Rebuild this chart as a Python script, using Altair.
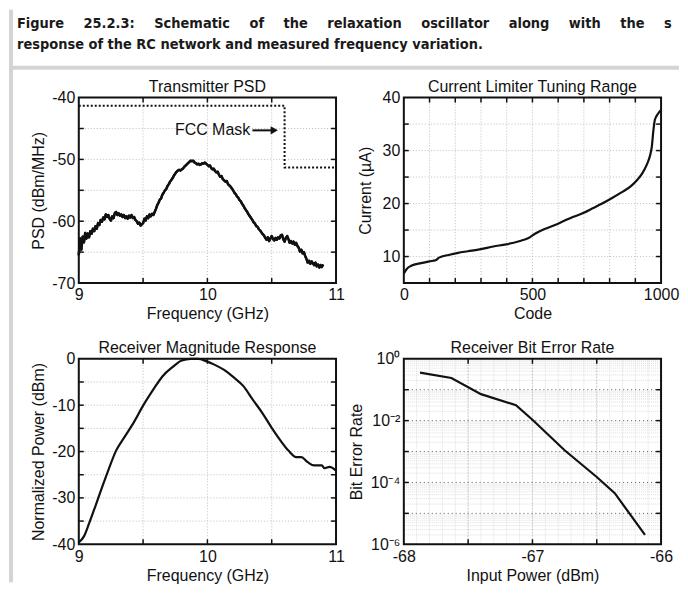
import altair as alt
import pandas as pd

# ---------------- data ----------------
# Transmitter PSD (dBm/MHz), sampled every 0.01 GHz from 9.00 GHz
psd_dbm = [
    -65.5, -62.8, -64.6, -62.5, -63.4, -61.9, -62.8, -62.0, -62.6, -61.6,
    -62.0, -61.2, -61.6, -60.8, -61.2, -60.3, -60.6, -59.8, -60.1, -59.4,
    -59.7, -58.9, -59.3, -59.0, -59.6, -59.9, -59.2, -59.5, -58.7, -58.5,
    -59.0, -58.7, -59.1, -58.9, -59.3, -59.0, -59.5, -59.2, -59.6, -59.1,
    -59.4, -59.0, -59.5, -59.3, -59.8, -60.0, -60.4, -60.2, -60.7, -60.5,
    -60.3, -59.6, -59.9, -59.2, -59.5, -58.9, -59.2, -58.8, -59.0, -58.5,
    -58.0, -57.4, -57.0, -56.5, -56.3, -55.7, -55.4, -55.0, -54.8, -54.3,
    -54.0, -53.6, -53.3, -53.0, -52.6, -52.3, -52.0, -51.8, -51.7, -51.8,
    -51.6, -51.5, -51.2, -51.0, -50.8, -50.6, -50.4, -50.2, -50.3, -50.2,
    -50.5, -50.6, -50.8, -50.7, -50.9, -50.8, -50.6, -50.7, -50.5, -50.7,
    -50.9, -51.1, -51.0, -51.4, -51.6, -51.5, -51.9, -52.1, -52.0, -52.5,
    -52.8, -52.7, -53.2, -53.4, -53.6, -53.5, -54.0, -54.2, -54.4, -54.7,
    -55.0, -55.4, -55.6, -56.0, -56.2, -56.6, -56.8, -57.2, -57.5, -57.9,
    -58.2, -58.5, -58.9, -59.2, -59.5, -59.8, -60.2, -60.4, -60.8, -60.9,
    -61.3, -61.5, -61.8, -62.1, -62.3, -62.7, -63.0, -62.6, -63.2, -62.8,
    -62.4, -62.9, -63.1, -62.7, -63.0, -62.6, -62.8, -62.3, -62.2, -62.9,
    -63.3, -62.7, -62.4, -62.9, -63.5, -63.2, -63.6, -63.3, -63.8, -63.5,
    -64.0, -64.3, -64.9, -64.6, -65.2, -65.0, -65.6, -66.1, -66.7, -66.4,
    -66.9, -66.5, -66.8, -67.1, -66.7, -67.3, -67.0, -67.5, -67.1, -67.4,
    -67.0,
]
psd_freq = [round(9.0 + 0.01 * i, 2) for i in range(len(psd_dbm))]

mask_freq = [9.0, 10.6, 10.6, 11.0]
mask_dbm = [-41.3, -41.3, -51.3, -51.3]

# Current limiter tuning range
cl_code = [0, 12, 31, 62, 99, 124, 137, 174, 211, 249, 299, 348, 398, 448, 485,
           510, 547, 585, 622, 659, 697, 734, 771, 808, 846, 883, 908, 927, 945,
           958, 964, 970, 976, 989, 998]
cl_current = [6.8, 7.7, 8.3, 8.7, 9.1, 9.3, 9.8, 10.3, 10.7, 11.0, 11.4, 11.9,
              12.3, 12.9, 13.5, 14.3, 15.2, 15.9, 16.7, 17.5, 18.2, 19.1, 20.0,
              21.0, 22.1, 23.3, 24.5, 25.7, 27.4, 29.2, 30.7, 33.7, 35.8, 37.0, 37.6]

# Receiver magnitude response
rx_freq = [9.0, 9.04, 9.08, 9.13, 9.18, 9.23, 9.29, 9.35, 9.43, 9.50, 9.58, 9.65,
           9.73, 9.80, 9.87, 9.93, 9.99, 10.05, 10.13, 10.20, 10.28, 10.35, 10.43,
           10.50, 10.57, 10.63, 10.69, 10.73, 10.78, 10.83, 10.89, 10.91, 10.95, 11.0]
rx_power = [-39.6, -38.3, -35.5, -31.7, -27.8, -24.0, -19.8, -17.1, -13.6, -10.1,
            -6.6, -3.8, -1.75, -0.35, 0.0, 0.0, -0.5, -1.2, -2.4, -3.9, -5.9, -8.7,
            -11.8, -14.9, -17.7, -19.8, -21.2, -21.2, -22.3, -23.0, -23.0, -23.6,
            -23.3, -24.1]

# Receiver bit error rate
ber_pin = [-67.874, -67.63, -67.40, -67.128, -67.0, -66.75, -66.50, -66.36, -66.125]
ber_val = [0.357, 0.24, 0.072, 0.0316, 0.0107, 1.1e-3, 1.5e-4, 4.5e-5, 2e-6]

header_line1 = "\u2003\u2002".join(["Figure", "25.2.3:", "Schematic", "of", "the", "relaxation",
                                    "oscillator", "along", "with", "the", "step"])
header_line2 = "response of the RC network and measured frequency variation."
panel_titles = ["Transmitter PSD", "Current Limiter Tuning Range",
                "Receiver Magnitude Response", "Receiver Bit Error Rate"]

# axis labels, grid lines and inward ticks
ghz_labels = [9, 10, 11]
ghz_grid = [9.5, 10, 10.5]
psd_labels = [-70, -60, -50, -40]
psd_grid = [-65, -60, -55, -50, -45]
code_labels = [0, 500, 1000]
code_grid = [100, 200, 300, 400, 500, 600, 700, 800, 900]
cur_labels = [10, 20, 30, 40]
cur_grid = [10, 15, 20, 25, 30, 35]
rx_labels = [-40, -30, -20, -10, 0]
rx_grid = [-35, -30, -25, -20, -15, -10, -5]
pin_labels = [-68, -67, -66]
pin_major = [-67.5, -67, -66.5]
pin_minor = [round(-68 + 0.1 * i, 2) for i in range(1, 20)]
ber_labels = [1e-6, 1e-4, 1e-2, 1.0]
ber_decades = [1e-5, 1e-4, 1e-3, 1e-2, 1e-1]
ber_minor = [round(m * d, 12) for d in [1e-6, 1e-5, 1e-4, 1e-3, 1e-2, 1e-1] for m in range(2, 10)]

# ---------------- style ----------------
FONT = "Liberation Sans"
HEAD_FONT = "DejaVu Sans Condensed, Liberation Sans Narrow, sans-serif"
INK = "#111111"
GRAY = "#d4d4d4"
GRID = "#bdbdbd"
W, H = 258, 186
TL = 5  # inward tick length


def one():
    return pd.DataFrame({"k": [0]})


def grid(xs, ys, xvals, yvals, color=GRID, dash=(1, 2)):
    out = []
    if xvals:
        out.append(alt.Chart(pd.DataFrame({"x": xvals})).mark_rule(
            color=color, strokeWidth=1, strokeDash=list(dash)).encode(
            x=alt.X("x:Q", scale=xs), y=alt.value(0), y2=alt.value(H)))
    if yvals:
        out.append(alt.Chart(pd.DataFrame({"y": yvals})).mark_rule(
            color=color, strokeWidth=1, strokeDash=list(dash)).encode(
            y=alt.Y("y:Q", scale=ys), x=alt.value(0), x2=alt.value(W)))
    return out


def inner_ticks(xs, ys, xvals, yvals):
    xd = pd.DataFrame({"x": xvals})
    yd = pd.DataFrame({"y": yvals})
    return [
        alt.Chart(xd).mark_rule(color=INK, strokeWidth=1.5).encode(
            x=alt.X("x:Q", scale=xs), y=alt.value(0), y2=alt.value(TL)),
        alt.Chart(xd).mark_rule(color=INK, strokeWidth=1.5).encode(
            x=alt.X("x:Q", scale=xs), y=alt.value(H), y2=alt.value(H - TL)),
        alt.Chart(yd).mark_rule(color=INK, strokeWidth=1.5).encode(
            y=alt.Y("y:Q", scale=ys), x=alt.value(0), x2=alt.value(TL)),
        alt.Chart(yd).mark_rule(color=INK, strokeWidth=1.5).encode(
            y=alt.Y("y:Q", scale=ys), x=alt.value(W), x2=alt.value(W - TL)),
    ]


def frame():
    return alt.Chart(one()).mark_rect(fillOpacity=0, stroke=INK, strokeWidth=2).encode(
        x=alt.value(0), x2=alt.value(W), y=alt.value(0), y2=alt.value(H))


def ptitle(text):
    return alt.Chart(one()).mark_text(
        font=FONT, fontSize=16, color=INK, align="center", baseline="alphabetic").encode(
        x=alt.value(W / 2), y=alt.value(-6), text=alt.value(text))


def axis(values, title, label_expr="'' + datum.value", **kw):
    return alt.Axis(values=values, labelExpr=label_expr, title=title, labelOverlap=False,
                    labelFlush=False, grid=False, **kw)


def lin(lo, hi):
    return alt.Scale(domain=[lo, hi], nice=False, zero=False)


# ---------------- panel 1: Transmitter PSD ----------------
xs1, ys1 = lin(9, 11), lin(-70, -40)
x1 = alt.X("x:Q", scale=xs1, axis=axis(ghz_labels, "Frequency (GHz)"))
y1 = alt.Y("y:Q", scale=ys1, axis=axis(psd_labels, "PSD (dBm/MHz)", titlePadding=5))

psd_line = alt.Chart(pd.DataFrame({"x": psd_freq, "y": psd_dbm})).mark_line(
    color=INK, strokeWidth=2.4, strokeJoin="round").encode(x=x1, y=y1)
mask_line = alt.Chart(pd.DataFrame({"x": mask_freq, "y": mask_dbm, "o": list(range(4))})).mark_line(
    color=INK, strokeWidth=2, strokeDash=[2, 2]).encode(
    x=alt.X("x:Q", scale=xs1), y=alt.Y("y:Q", scale=ys1), order="o:Q")
fcc_text = alt.Chart(pd.DataFrame({"x": [10.04], "y": [-45.3], "t": ["FCC Mask"]})).mark_text(
    font=FONT, fontSize=16, color=INK, align="center", baseline="middle").encode(
    x=alt.X("x:Q", scale=xs1), y=alt.Y("y:Q", scale=ys1), text="t:N")
fcc_arrow = alt.Chart(pd.DataFrame({"x": [10.35], "x2": [10.5], "y": [-45.3]})).mark_rule(
    color=INK, strokeWidth=2).encode(x=alt.X("x:Q", scale=xs1), x2="x2:Q",
                                     y=alt.Y("y:Q", scale=ys1))
fcc_head = alt.Chart(pd.DataFrame({"x": [10.52], "y": [-45.3]})).mark_point(
    shape="triangle-right", filled=True, size=70, color=INK, opacity=1).encode(
    x=alt.X("x:Q", scale=xs1), y=alt.Y("y:Q", scale=ys1))

# header and grey page frame (drawn relative to the first panel)
hdr = []
hdr.append(alt.Chart(one()).mark_rect(color=GRAY).encode(
    x=alt.value(-70), x2=alt.value(-66), y=alt.value(-88), y2=alt.value(486)))
hdr.append(alt.Chart(one()).mark_rect(color=GRAY).encode(
    x=alt.value(-70), x2=alt.value(602), y=alt.value(-32), y2=alt.value(-28)))
hdr.append(alt.Chart(one()).mark_text(
    font=HEAD_FONT, fontSize=14.5, fontWeight="bold", color="#1a1a1a", align="left",
    baseline="alphabetic", limit=664, ellipsis="\u200a").encode(
    x=alt.value(-62), y=alt.value(-70), text=alt.value(header_line1)))
hdr.append(alt.Chart(one()).mark_text(
    font=HEAD_FONT, fontSize=14.5, fontWeight="bold", color="#1a1a1a", align="left",
    baseline="alphabetic").encode(x=alt.value(-62), y=alt.value(-49), text=alt.value(header_line2)))

p1 = alt.layer(psd_line, *grid(xs1, ys1, ghz_grid, psd_grid), mask_line, fcc_text, fcc_arrow,
               fcc_head, *inner_ticks(xs1, ys1, ghz_grid, psd_grid), frame(),
               ptitle(panel_titles[0]), *hdr).properties(width=W, height=H)
# draw the data line above the grid: repeat it after the grid layers
p1 = alt.layer(*p1.layer, psd_line.encode(x=alt.X("x:Q", scale=xs1), y=alt.Y("y:Q", scale=ys1))
               ).properties(width=W, height=H)

# ---------------- panel 2: Current limiter ----------------
xs2, ys2 = lin(0, 1000), lin(5, 40)
x2 = alt.X("x:Q", scale=xs2, axis=axis(code_labels, "Code"))
y2 = alt.Y("y:Q", scale=ys2, axis=axis(cur_labels, "Current (\u00b5A)", titlePadding=9))
cl_line = alt.Chart(pd.DataFrame({"x": cl_code, "y": cl_current})).mark_line(
    color=INK, strokeWidth=2.2, interpolate="monotone").encode(x=x2, y=y2)
p2 = alt.layer(*grid(xs2, ys2, code_grid, cur_grid), cl_line,
               *inner_ticks(xs2, ys2, code_grid, cur_grid), frame(),
               ptitle(panel_titles[1])).properties(width=W, height=H)

# ---------------- panel 3: Receiver magnitude ----------------
xs3, ys3 = lin(9, 11), lin(-40, 0)
x3 = alt.X("x:Q", scale=xs3, axis=axis(ghz_labels, "Frequency (GHz)"))
y3 = alt.Y("y:Q", scale=ys3, axis=axis(rx_labels, "Normalized Power (dBm)", titlePadding=5))
rx_line = alt.Chart(pd.DataFrame({"x": rx_freq, "y": rx_power})).mark_line(
    color=INK, strokeWidth=2.2, interpolate="monotone").encode(x=x3, y=y3)
p3 = alt.layer(*grid(xs3, ys3, ghz_grid, rx_grid), rx_line,
               *inner_ticks(xs3, ys3, ghz_grid, rx_grid), frame(),
               ptitle(panel_titles[2])).properties(width=W, height=H)

# ---------------- panel 4: BER ----------------
xs4 = lin(-68, -66)
ys4 = alt.Scale(type="log", domain=[1e-6, 1], nice=False)
ber_label = ("datum.value > 0.99 ? '10\u2070' : datum.value > 0.001 ? '10\u207b\u00b2' : "
             "datum.value > 0.00001 ? '10\u207b\u2074' : '10\u207b\u2076'")
x4 = alt.X("x:Q", scale=xs4, axis=axis(pin_labels, "Input Power (dBm)"))
y4 = alt.Y("y:Q", scale=ys4, axis=axis(ber_labels, "Bit Error Rate", label_expr=ber_label,
                                       titlePadding=6))
ber_line = alt.Chart(pd.DataFrame({"x": ber_pin, "y": ber_val})).mark_line(
    color=INK, strokeWidth=2.2).encode(x=x4, y=y4)
p4 = alt.layer(*grid(xs4, ys4, pin_minor, ber_minor, color="#dedede", dash=(1, 1)),
               *grid(xs4, ys4, pin_major, [], color="#b5b5b5"),
               *grid(xs4, ys4, [], ber_decades, color="#555555", dash=(1, 3)),
               ber_line,
               *inner_ticks(xs4, ys4, pin_major, ber_decades), frame(),
               ptitle(panel_titles[3])).properties(width=W, height=H)

chart = alt.concat(p1, p2, p3, p4, columns=2, bounds="flush", padding=0,
                   spacing=alt.RowColnumber(row=76, column=68)).configure(
    background="white").configure_view(
    stroke="transparent").configure_axis(
    grid=False, domain=False, ticks=False,
    labelFont=FONT, labelFontSize=16, labelColor=INK, labelPadding=4, labelFlush=False,
    labelOverlap=False, titleFont=FONT, titleFontSize=16, titleFontWeight="normal",
    titleColor=INK, titlePadding=3)

chart.save("out.html", embed_options={"renderer": "svg", "actions": False})
